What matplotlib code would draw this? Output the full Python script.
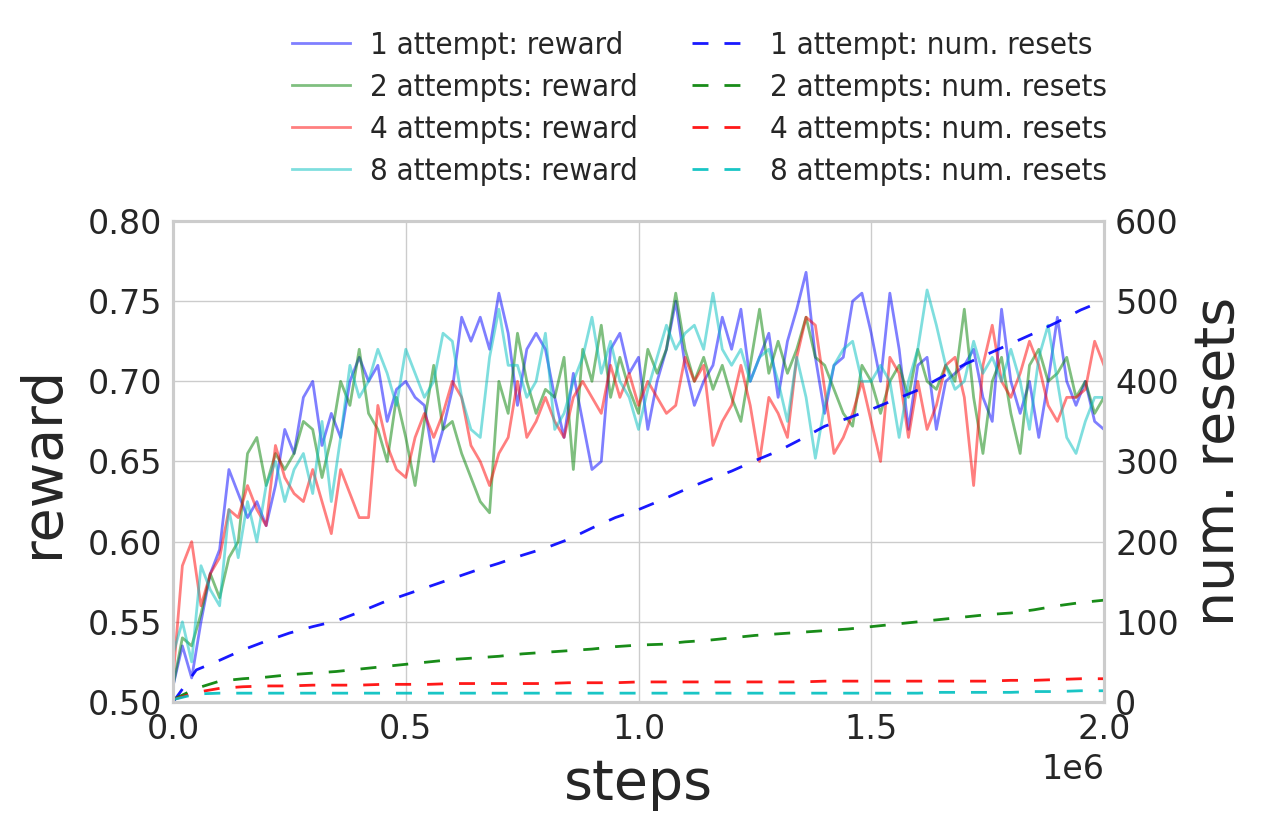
import numpy as np
import matplotlib
matplotlib.use("Agg")
import matplotlib.pyplot as plt

# sample positions (in units of 1e6 steps)
steps_reward = np.linspace(0, 2.0, 101) * 1e6
steps_resets = np.linspace(0, 2.0, 41) * 1e6

reward_1 = [0.51, 0.535, 0.515, 0.55, 0.58, 0.595, 0.645, 0.63, 0.615, 0.625,
            0.61, 0.635, 0.67, 0.655, 0.69, 0.70, 0.66, 0.68, 0.665, 0.70,
            0.715, 0.70, 0.71, 0.675, 0.695, 0.70, 0.69, 0.685, 0.65, 0.67,
            0.695, 0.74, 0.725, 0.74, 0.72, 0.755, 0.73, 0.685, 0.72, 0.73,
            0.72, 0.69, 0.665, 0.705, 0.675, 0.645, 0.65, 0.72, 0.73, 0.705,
            0.715, 0.67, 0.70, 0.72, 0.75, 0.71, 0.685, 0.70, 0.71, 0.74,
            0.72, 0.745, 0.70, 0.715, 0.73, 0.69, 0.725, 0.745, 0.768, 0.715,
            0.68, 0.71, 0.715, 0.75, 0.755, 0.73, 0.70, 0.755, 0.72, 0.67,
            0.71, 0.715, 0.67, 0.70, 0.705, 0.71, 0.72, 0.69, 0.675, 0.745,
            0.70, 0.68, 0.70, 0.665, 0.70, 0.74, 0.70, 0.685, 0.70, 0.675,
            0.67]
reward_2 = [0.51, 0.54, 0.535, 0.555, 0.58, 0.565, 0.59, 0.60, 0.655, 0.665,
            0.635, 0.655, 0.645, 0.655, 0.675, 0.67, 0.64, 0.665, 0.70, 0.685,
            0.72, 0.68, 0.67, 0.65, 0.69, 0.665, 0.635, 0.675, 0.71, 0.67,
            0.675, 0.655, 0.64, 0.625, 0.618, 0.70, 0.68, 0.73, 0.70, 0.68,
            0.695, 0.69, 0.715, 0.645, 0.72, 0.70, 0.735, 0.69, 0.715, 0.695,
            0.68, 0.72, 0.705, 0.72, 0.755, 0.72, 0.70, 0.715, 0.695, 0.71,
            0.69, 0.675, 0.71, 0.745, 0.705, 0.725, 0.705, 0.72, 0.74, 0.715,
            0.71, 0.695, 0.68, 0.672, 0.71, 0.70, 0.68, 0.70, 0.71, 0.69,
            0.72, 0.70, 0.695, 0.71, 0.70, 0.745, 0.69, 0.655, 0.70, 0.715,
            0.68, 0.655, 0.71, 0.72, 0.70, 0.705, 0.715, 0.69, 0.70, 0.68,
            0.69]
reward_4 = [0.515, 0.585, 0.60, 0.56, 0.58, 0.59, 0.62, 0.615, 0.635, 0.62,
            0.61, 0.66, 0.64, 0.63, 0.625, 0.645, 0.625, 0.605, 0.645, 0.63,
            0.615, 0.615, 0.685, 0.66, 0.645, 0.64, 0.665, 0.68, 0.665, 0.68,
            0.70, 0.69, 0.66, 0.65, 0.635, 0.655, 0.665, 0.70, 0.665, 0.675,
            0.69, 0.675, 0.665, 0.69, 0.70, 0.69, 0.68, 0.71, 0.69, 0.705,
            0.685, 0.70, 0.69, 0.68, 0.685, 0.715, 0.70, 0.71, 0.66, 0.675,
            0.685, 0.71, 0.685, 0.65, 0.69, 0.68, 0.665, 0.715, 0.74, 0.735,
            0.695, 0.655, 0.665, 0.68, 0.70, 0.675, 0.65, 0.715, 0.705, 0.665,
            0.70, 0.67, 0.685, 0.71, 0.715, 0.69, 0.635, 0.71, 0.735, 0.70,
            0.69, 0.705, 0.725, 0.71, 0.685, 0.675, 0.69, 0.69, 0.695, 0.725,
            0.71]
reward_8 = [0.53, 0.55, 0.525, 0.585, 0.57, 0.56, 0.62, 0.59, 0.625, 0.60,
            0.635, 0.65, 0.625, 0.645, 0.655, 0.63, 0.675, 0.625, 0.665, 0.71,
            0.69, 0.70, 0.72, 0.705, 0.685, 0.72, 0.705, 0.69, 0.70, 0.73,
            0.725, 0.69, 0.67, 0.665, 0.715, 0.745, 0.71, 0.71, 0.69, 0.70,
            0.73, 0.67, 0.68, 0.70, 0.715, 0.74, 0.705, 0.725, 0.70, 0.69,
            0.67, 0.695, 0.715, 0.735, 0.72, 0.73, 0.735, 0.72, 0.755, 0.72,
            0.71, 0.72, 0.70, 0.715, 0.72, 0.70, 0.675, 0.715, 0.69, 0.652,
            0.685, 0.71, 0.72, 0.725, 0.70, 0.70, 0.71, 0.70, 0.665, 0.70,
            0.72, 0.757, 0.735, 0.71, 0.695, 0.70, 0.725, 0.705, 0.715, 0.70,
            0.72, 0.70, 0.67, 0.715, 0.735, 0.70, 0.665, 0.655, 0.675, 0.69,
            0.69]

resets_1 = [0, 40, 52, 65, 76, 86, 94, 101, 112, 124, 134, 144, 154, 164,
            173, 183, 192, 203, 217, 230, 240, 252, 265, 277, 288, 301, 313,
            328, 344, 354, 365, 377, 389, 405, 421, 434, 447, 460, 474, 489, 501]
resets_2 = [3, 17, 26, 29, 31, 34, 36, 38, 41, 44, 47, 50, 53, 55, 57, 60, 62,
            64, 66, 69, 71, 72, 75, 77, 80, 83, 85, 87, 89, 91, 94, 97, 100,
            103, 106, 109, 111, 115, 120, 124, 127]
resets_4 = [3, 12, 17, 19, 20, 20, 21, 21, 21, 22, 22, 22, 23, 23, 23, 23, 23,
            24, 24, 24, 25, 25, 25, 25, 25, 25, 25, 25, 26, 26, 26, 26, 26,
            26, 26, 26, 27, 27, 28, 29, 29]
resets_8 = [3, 10, 11, 11, 11, 11, 11, 11, 11, 11, 11, 11, 11, 11, 11, 11, 11,
            11, 11, 11, 11, 11, 11, 11, 11, 11, 11, 11, 11, 11, 11, 11, 11,
            12, 12, 12, 12, 13, 13, 14, 14]

labels = ["1 attempt", "2 attempts", "4 attempts", "8 attempts"]
colors = ["b", "g", "r", "c"]


def main():
    plt.rcParams["font.family"] = "DejaVu Sans"
    plt.rcParams["text.color"] = "#262626"
    plt.rcParams["axes.labelcolor"] = "#262626"
    plt.rcParams["xtick.color"] = "#262626"
    plt.rcParams["ytick.color"] = "#262626"

    fig = plt.figure(figsize=(12.66, 8.34), dpi=100)
    ax = fig.add_axes([0.1367, 0.1583, 0.7353, 0.5767])
    ax2 = ax.twinx()

    rewards = [reward_1, reward_2, reward_4, reward_8]
    resets = [resets_1, resets_2, resets_4, resets_8]
    handles = []
    for lab, col, rew in zip(labels, colors, rewards):
        h, = ax.plot(steps_reward, rew, color=col, alpha=0.5, lw=2.0,
                     label=lab + ": reward")
        handles.append(h)
    for lab, col, res in zip(labels, colors, resets):
        h, = ax2.plot(steps_resets, res, color=col, alpha=0.9, lw=2.0,
                      linestyle=(0, (5.75, 5.75)),
                      label=lab + ": num. resets")
        handles.append(h)

    ax.set_xlim(0, 2e6)
    ax.set_ylim(0.5, 0.8)
    ax2.set_ylim(0, 600)
    ax.set_xticks([0, 0.5e6, 1e6, 1.5e6, 2e6])
    ax.set_yticks(np.arange(0.5, 0.801, 0.05))
    ax2.set_yticks(np.arange(0, 601, 100))

    for a in (ax, ax2):
        for sp in a.spines.values():
            sp.set_color("#cccccc")
            sp.set_linewidth(2.2)
        a.tick_params(length=0, labelsize=24, pad=8)
    ax.xaxis.OFFSETTEXTPAD = 5
    ax.xaxis.get_offset_text().set_fontsize(24)
    ax.grid(True, color="#cccccc", lw=1.0)
    ax.set_axisbelow(True)
    ax2.grid(False)

    ax.set_xlabel("steps", fontsize=40, labelpad=8)
    ax.set_ylabel("reward", fontsize=40, labelpad=13)
    ax2.set_ylabel("num. resets", fontsize=40, labelpad=9)

    fig.legend(handles=handles, ncol=2, loc="upper left",
               bbox_to_anchor=(0.218, 0.9816), frameon=False,
               prop={"size": 22.4, "stretch": "condensed"},
               handlelength=1.87, handletextpad=0.65, columnspacing=1.74,
               labelspacing=0.42, borderpad=0.0)

    fig.savefig("out.png", dpi=100)


if __name__ == "__main__":
    main()
